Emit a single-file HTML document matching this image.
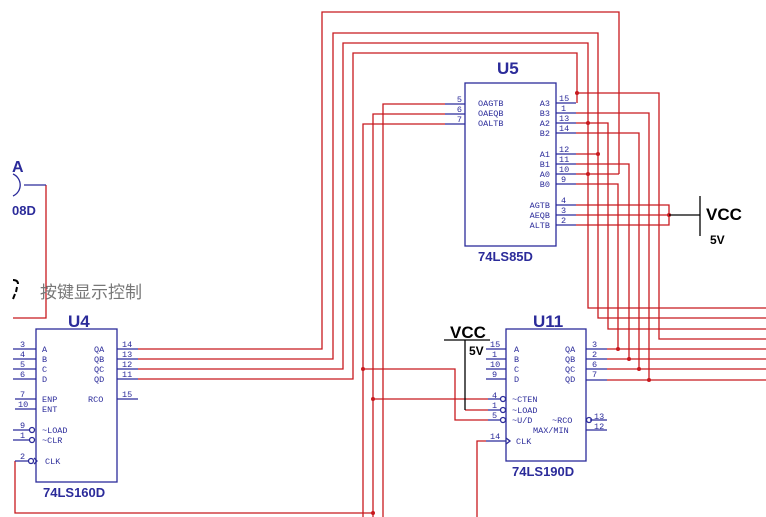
<!DOCTYPE html>
<html><head><meta charset="utf-8"><style>body{margin:0;background:#fff}svg{display:block}</style></head><body>
<svg width="766" height="517" xmlns="http://www.w3.org/2000/svg" font-family="Liberation Mono, monospace">
<g stroke="#c8191e" stroke-width="1.3" fill="none">
<!-- U4 outputs to top -->
<polyline points="138,349 322,349 322,12 619,12 619,174"/>
<polyline points="138,359 333,359 333,33 598,33 598,318 766,318"/>
<polyline points="138,369 343,369 343,43 588,43 588,308 766,308"/>
<polyline points="138,379 353,379 353,53 577,53 577,103"/>
<!-- U5 A/B to right -->
<polyline points="577,93 659,93 659,339 766,339"/>
<polyline points="576,113 649,113 649,380"/>
<polyline points="576,123 608,123 608,329 766,329"/>
<polyline points="576,133 639,133 639,369"/>
<polyline points="576,154 598,154"/>
<polyline points="576,164 629,164 629,359"/>
<polyline points="576,174 619,174"/>
<polyline points="576,184 618,184 618,349"/>
<polyline points="607,349 766,349"/><polyline points="607,359 766,359"/><polyline points="607,369 766,369"/><polyline points="607,380 766,380"/>
<!-- U5 left outputs -->
<polyline points="445,104 383,104 383,517"/>
<polyline points="445,114 373,114 373,517"/>
<polyline points="445,124 363,124 363,517"/>
<polyline points="363,369 455,369 455,420 488,420"/>
<polyline points="373,399 488,399"/>
<polyline points="15,461 15,513 373,513"/>
<polyline points="465,410 488,410"/>
<polyline points="486,441 477,441 477,517"/>
<!-- AGTB etc -->
<polyline points="576,205 669,205 669,225 576,225"/>
<polyline points="576,215 669,215"/>
<polyline points="46,185 46,318 13,318"/>
</g>
<g fill="#c8191e">
<circle cx="577" cy="93" r="2"/><circle cx="588" cy="123" r="2"/><circle cx="598" cy="154" r="2"/><circle cx="588" cy="174" r="2"/>
<circle cx="669" cy="215" r="2"/>
<circle cx="618" cy="349" r="2"/><circle cx="629" cy="359" r="2"/><circle cx="639" cy="369" r="2"/><circle cx="649" cy="380" r="2"/>
<circle cx="363" cy="369" r="2"/><circle cx="373" cy="399" r="2"/><circle cx="373" cy="513" r="2"/>
</g>
<g stroke="#000" stroke-width="1.3"><line x1="669" y1="215" x2="700" y2="215"/><line x1="700" y1="196" x2="700" y2="236"/>
<line x1="444" y1="340" x2="490" y2="340"/><line x1="465" y1="340" x2="465" y2="410"/></g>
<g font-family="Liberation Sans, sans-serif" font-weight="bold" fill="#000"><text x="706" y="220" font-size="17">VCC</text><text x="710" y="244" font-size="12">5V</text>
<text x="450" y="338" font-size="17">VCC</text><text x="469" y="355" font-size="12">5V</text></g>
<!-- chips -->
<g stroke="#2b2b9a" stroke-width="1.3" fill="none">
<rect x="465" y="83" width="91" height="163"/>
<rect x="36" y="329" width="81" height="153"/>
<rect x="506" y="329" width="80" height="132"/>
<path d="M445 104h20M445 114h20M445 124h20M556 103h20M556 113h20M556 123h20M556 133h20M556 154h20M556 164h20M556 174h20M556 184h20M556 205h20M556 215h20M556 225h20"/>
<path d="M13 349h23M13 359h23M13 369h23M13 379h23M15 399h21M15 409h21M13 430h17M13 440h17M15 461h13M117 349h21M117 359h21M117 369h21M117 379h21M117 399h21"/>
<path d="M486 349h20M486 359h20M486 369h20M486 379h20M488 399h13M488 410h13M488 420h13M486 441h20M586 349h21M586 359h21M586 369h21M586 380h21M590 420h17M586 430h21"/>
<circle cx="32" cy="430" r="2.5"/><circle cx="32" cy="440" r="2.5"/><circle cx="31" cy="461" r="2.5"/><path d="M34 458l3 3-3 3"/>
<circle cx="503" cy="399" r="2.5"/><circle cx="503" cy="410" r="2.5"/><circle cx="503" cy="420" r="2.5"/><circle cx="589" cy="420" r="2.5"/><path d="M506 438l4 3-4 3"/>
<path d="M13 174 A12 12 0 0 1 13 196 M24 185h22"/>
</g>
<g fill="#2b2b9a" font-size="8.5">
<text x="478" y="106">OAGTB</text><text x="478" y="116">OAEQB</text><text x="478" y="126">OALTB</text>
<g text-anchor="end"><text x="550" y="106">A3</text><text x="550" y="116">B3</text><text x="550" y="126">A2</text><text x="550" y="136">B2</text>
<text x="550" y="157">A1</text><text x="550" y="167">B1</text><text x="550" y="177">A0</text><text x="550" y="187">B0</text>
<text x="550" y="208">AGTB</text><text x="550" y="218">AEQB</text><text x="550" y="228">ALTB</text>
<text x="462" y="102">5</text><text x="462" y="112">6</text><text x="462" y="122">7</text></g>
<text x="559" y="101">15</text><text x="561" y="111">1</text><text x="559" y="121">13</text><text x="559" y="131">14</text>
<text x="559" y="152">12</text><text x="559" y="162">11</text><text x="559" y="172">10</text><text x="561" y="182">9</text>
<text x="561" y="203">4</text><text x="561" y="213">3</text><text x="561" y="223">2</text>
<text x="42" y="352">A</text><text x="42" y="362">B</text><text x="42" y="372">C</text><text x="42" y="382">D</text>
<text x="42" y="402">ENP</text><text x="42" y="412">ENT</text><text x="42" y="433">~LOAD</text><text x="42" y="443">~CLR</text><text x="45" y="464">CLK</text>
<text x="94" y="352">QA</text><text x="94" y="362">QB</text><text x="94" y="372">QC</text><text x="94" y="382">QD</text><text x="88" y="402">RCO</text>
<text x="20" y="347">3</text><text x="20" y="357">4</text><text x="20" y="367">5</text><text x="20" y="377">6</text><text x="20" y="397">7</text><text x="18" y="407">10</text><text x="20" y="428">9</text><text x="20" y="438">1</text><text x="20" y="459">2</text>
<text x="122" y="347">14</text><text x="122" y="357">13</text><text x="122" y="367">12</text><text x="122" y="377">11</text><text x="122" y="397">15</text>
<text x="514" y="352">A</text><text x="514" y="362">B</text><text x="514" y="372">C</text><text x="514" y="382">D</text>
<text x="512" y="402">~CTEN</text><text x="512" y="413">~LOAD</text><text x="512" y="423">~U/D</text><text x="552" y="423">~RCO</text><text x="533" y="433">MAX/MIN</text><text x="516" y="444">CLK</text>
<text x="565" y="352">QA</text><text x="565" y="362">QB</text><text x="565" y="372">QC</text><text x="565" y="382">QD</text>
<text x="490" y="347">15</text><text x="492" y="357">1</text><text x="490" y="367">10</text><text x="492" y="377">9</text><text x="492" y="398">4</text><text x="492" y="408">1</text><text x="492" y="418">5</text><text x="490" y="439">14</text>
<text x="592" y="347">3</text><text x="592" y="357">2</text><text x="592" y="367">6</text><text x="592" y="377">7</text><text x="594" y="419">13</text><text x="594" y="429">12</text>
</g>
<g fill="#2b2b9a" font-family="Liberation Sans, sans-serif" font-weight="bold">
<text x="497" y="74" font-size="17">U5</text><text x="478" y="261" font-size="13">74LS85D</text>
<text x="68" y="327" font-size="17">U4</text><text x="43" y="497" font-size="13">74LS160D</text>
<text x="533" y="327" font-size="17">U11</text><text x="512" y="476" font-size="13">74LS190D</text>
<text x="12" y="172" font-size="16">A</text><text x="12" y="215" font-size="13">08D</text>
</g>
<text x="40" y="298" font-family="Liberation Sans, 'Noto Sans CJK SC', sans-serif" font-size="17" fill="#777">按键显示控制</text>
<g stroke="#000" stroke-width="2" fill="none"><path d="M13 280q5 0 5 4M17 287l-1 5M15 294l-2 5"/></g>
</svg>
</body></html>
